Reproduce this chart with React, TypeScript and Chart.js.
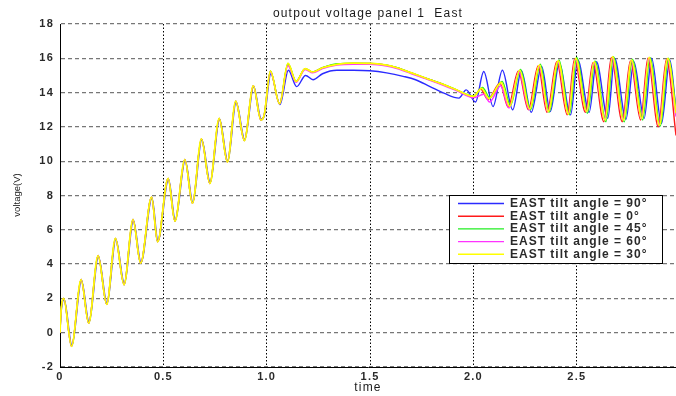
import React, { useEffect, useRef } from 'react';
import { Chart, registerables } from 'chart.js';

Chart.register(...registerables);

const TITLE = 'outpout voltage panel 1  East';
const X_LABEL = 'time';
const Y_LABEL = 'voltage(V)';
const X_MIN = 0;
const X_MAX = 2.98;
const X_STEP = 0.5;
const Y_MIN = -2;
const Y_MAX = 18;
const Y_STEP = 2;

const SERIES_LABELS = [
  'EAST tilt angle = 90°',
  'EAST tilt angle = 0°',
  'EAST tilt angle = 45°',
  'EAST tilt angle = 60°',
  'EAST tilt angle = 30°',
];

// 90°
const t90 = [0, 0.004, 0.02, 0.058, 0.104, 0.141, 0.186, 0.228, 0.27, 0.312, 0.355, 0.392, 0.445, 0.474, 0.525, 0.558, 0.606, 0.643, 0.686, 0.727, 0.772, 0.812, 0.852, 0.894, 0.937, 0.974, 0.99, 1.02, 1.064, 1.105, 1.145, 1.188, 1.224, 1.27, 1.34, 1.42, 1.5, 1.58, 1.66, 1.72, 1.79, 1.86, 1.93, 1.965, 2.01, 2.05, 2.095, 2.14, 2.19, 2.232, 2.28, 2.33, 2.372, 2.415, 2.47, 2.505, 2.56, 2.595, 2.65, 2.683, 2.738, 2.776, 2.826, 2.862, 2.91, 2.95, 2.98];
const v90 = [0, 1.0, 1.95, -0.75, 3.05, 0.6, 4.45, 1.7, 5.45, 2.85, 6.55, 4.1, 7.85, 5.35, 8.95, 6.55, 10.05, 7.6, 11.25, 8.75, 12.45, 10.0, 13.45, 11.25, 14.35, 12.45, 12.7, 15.1, 13.3, 15.3, 14.35, 15.0, 14.75, 15.1, 15.3, 15.3, 15.27, 15.15, 14.95, 14.75, 14.35, 13.95, 13.68, 14.16, 13.45, 15.23, 13.19, 15.3, 13.0, 15.27, 12.85, 15.52, 12.9, 15.7, 12.7, 15.9, 12.85, 15.8, 12.5, 16.0, 12.45, 15.8, 12.5, 16.0, 12.2, 15.9, 13.0];

// 0°
const t0 = [0, 0.004, 0.018, 0.056, 0.102, 0.139, 0.184, 0.226, 0.268, 0.31, 0.353, 0.39, 0.443, 0.472, 0.523, 0.556, 0.604, 0.641, 0.684, 0.725, 0.77, 0.81, 0.85, 0.892, 0.935, 0.972, 0.988, 1.018, 1.062, 1.103, 1.142, 1.186, 1.222, 1.27, 1.34, 1.42, 1.5, 1.58, 1.63, 1.7, 1.79, 1.86, 1.92, 2.0, 2.035, 2.07, 2.128, 2.168, 2.217, 2.266, 2.313, 2.356, 2.403, 2.454, 2.489, 2.542, 2.578, 2.631, 2.667, 2.72, 2.759, 2.809, 2.844, 2.894, 2.934, 2.98];
const v0 = [0, 1.1, 2.0, -0.8, 3.1, 0.55, 4.5, 1.65, 5.5, 2.8, 6.6, 4.05, 7.9, 5.3, 9.0, 6.5, 10.1, 7.55, 11.3, 8.7, 12.5, 9.95, 13.5, 11.2, 14.4, 12.4, 12.7, 15.25, 13.35, 15.65, 14.65, 15.4, 15.2, 15.45, 15.65, 15.7, 15.7, 15.6, 15.45, 15.15, 14.75, 14.45, 14.15, 13.75, 14.2, 13.6, 14.55, 13.15, 15.25, 13.0, 15.55, 12.85, 15.8, 12.7, 15.95, 12.85, 15.75, 12.3, 16.05, 12.3, 15.85, 12.4, 16.0, 12.0, 15.95, 11.5];

// 45°
const t45 = [0, 0.004, 0.018, 0.056, 0.102, 0.139, 0.184, 0.226, 0.268, 0.31, 0.353, 0.39, 0.443, 0.472, 0.523, 0.556, 0.604, 0.641, 0.684, 0.725, 0.77, 0.81, 0.85, 0.892, 0.935, 0.972, 0.988, 1.018, 1.062, 1.103, 1.142, 1.186, 1.222, 1.27, 1.34, 1.42, 1.5, 1.58, 1.63, 1.7, 1.79, 1.86, 1.92, 2.0, 2.044, 2.079, 2.139, 2.179, 2.228, 2.276, 2.324, 2.366, 2.414, 2.464, 2.499, 2.552, 2.588, 2.641, 2.677, 2.73, 2.769, 2.819, 2.854, 2.904, 2.944, 2.98];
const v45 = [0, 1.1, 2.0, -0.8, 3.1, 0.55, 4.5, 1.65, 5.5, 2.8, 6.6, 4.05, 7.9, 5.3, 9.0, 6.5, 10.1, 7.55, 11.3, 8.7, 12.5, 9.95, 13.5, 11.2, 14.4, 12.4, 12.7, 15.25, 13.35, 15.7, 14.65, 15.4, 15.2, 15.45, 15.68, 15.72, 15.7, 15.6, 15.45, 15.15, 14.75, 14.45, 14.15, 13.8, 14.3, 13.7, 14.65, 13.25, 15.35, 13.0, 15.65, 12.85, 15.9, 12.7, 16.05, 12.8, 15.85, 12.3, 16.1, 12.3, 15.95, 12.4, 16.05, 12.05, 16.0, 13.0];

// 60°
const t60 = [0, 0.004, 0.018, 0.056, 0.102, 0.139, 0.184, 0.226, 0.268, 0.31, 0.353, 0.39, 0.443, 0.472, 0.523, 0.556, 0.604, 0.641, 0.684, 0.725, 0.77, 0.81, 0.85, 0.892, 0.935, 0.972, 0.988, 1.018, 1.062, 1.103, 1.142, 1.186, 1.222, 1.27, 1.34, 1.42, 1.5, 1.58, 1.63, 1.7, 1.79, 1.86, 1.92, 2.0, 2.05, 2.078, 2.132, 2.172, 2.22, 2.27, 2.318, 2.36, 2.408, 2.458, 2.493, 2.546, 2.582, 2.635, 2.671, 2.724, 2.763, 2.813, 2.848, 2.898, 2.938, 2.98];
const v60 = [0, 1.1, 2.0, -0.8, 3.1, 0.55, 4.5, 1.65, 5.5, 2.8, 6.6, 4.05, 7.9, 5.3, 9.0, 6.5, 10.1, 7.55, 11.3, 8.7, 12.5, 9.95, 13.5, 11.2, 14.4, 12.4, 12.7, 15.2, 13.35, 15.56, 14.6, 15.35, 15.15, 15.4, 15.6, 15.65, 15.65, 15.55, 15.4, 15.1, 14.72, 14.4, 14.1, 13.7, 13.9, 13.45, 14.4, 13.1, 15.2, 13.0, 15.55, 12.9, 15.8, 12.75, 15.95, 12.9, 15.75, 12.45, 16.0, 12.45, 15.85, 12.5, 16.0, 12.15, 15.95, 12.6];

// 30°
const t30 = [0, 0.004, 0.018, 0.056, 0.102, 0.139, 0.184, 0.226, 0.268, 0.31, 0.353, 0.39, 0.443, 0.472, 0.523, 0.556, 0.604, 0.641, 0.684, 0.725, 0.77, 0.81, 0.85, 0.892, 0.935, 0.972, 0.988, 1.018, 1.062, 1.103, 1.142, 1.186, 1.222, 1.27, 1.34, 1.42, 1.5, 1.58, 1.63, 1.7, 1.79, 1.86, 1.92, 2.0, 2.04, 2.075, 2.135, 2.175, 2.224, 2.272, 2.32, 2.362, 2.41, 2.46, 2.495, 2.548, 2.584, 2.637, 2.673, 2.726, 2.765, 2.815, 2.85, 2.9, 2.94, 2.98];
const v30 = [0, 1.1, 2.0, -0.8, 3.1, 0.55, 4.5, 1.65, 5.5, 2.8, 6.6, 4.05, 7.9, 5.3, 9.0, 6.5, 10.1, 7.55, 11.3, 8.7, 12.5, 9.95, 13.5, 11.2, 14.4, 12.4, 12.7, 15.25, 13.35, 15.7, 14.65, 15.4, 15.2, 15.45, 15.65, 15.72, 15.7, 15.6, 15.45, 15.15, 14.75, 14.45, 14.15, 13.78, 14.25, 13.65, 14.6, 13.2, 15.3, 13.05, 15.6, 12.9, 15.85, 12.75, 16.0, 12.9, 15.8, 12.4, 16.1, 12.4, 15.9, 12.5, 16.05, 12.1, 16.0, 12.8];

const SERIES_T = [t90, t0, t45, t60, t30];
const SERIES_V = [v90, v0, v45, v60, v30];
const SERIES_COLORS = ['#2b2bff', '#ff1a1a', '#22ee22', '#ff33ff', '#ffff00'];
const SERIES_WIDTHS = [1.4, 1.4, 1.4, 1.4, 1.7];
const DRAW_ORDER = [4, 3, 2, 1, 0];

const FONT = '"Liberation Sans", Arial, sans-serif';
const TEXT_COLOR = '#1a1a1a';

const customPlugin = {
  id: 'matlabLook',
  beforeUpdate(chart: any) {
    chart.ctx.letterSpacing = '1.2px';
  },
  beforeDraw(chart: any) {
    chart.ctx.letterSpacing = '1.2px';
  },
  afterDraw(chart: any) {
    const ctx = chart.ctx;
    ctx.save();
    // legend box
    const lx = 449, ly = 195, lw = 213, lh = 68;
    ctx.fillStyle = '#ffffff';
    ctx.fillRect(lx, ly, lw, lh);
    ctx.strokeStyle = '#000000';
    ctx.lineWidth = 1;
    ctx.strokeRect(lx + 0.5, ly + 0.5, lw, lh);
    ctx.letterSpacing = '1px';
    ctx.font = 'bold 12px ' + FONT;
    ctx.textBaseline = 'middle';
    ctx.textAlign = 'left';
    chart.data.datasets.forEach((ds: any, i: number) => {
      const y = ly + 8.5 + i * 12.7;
      ctx.strokeStyle = ds.borderColor;
      ctx.lineWidth = 1.4;
      ctx.beginPath();
      ctx.moveTo(lx + 9, y);
      ctx.lineTo(lx + 55, y);
      ctx.stroke();
      ctx.fillStyle = '#2a2a2a';
      ctx.fillText(ds.label, lx + 61, y);
    });
    // y axis label
    ctx.letterSpacing = '0px';
    ctx.translate(17.5, 195);
    ctx.rotate(-Math.PI / 2);
    ctx.textAlign = 'center';
    ctx.textBaseline = 'middle';
    ctx.font = '9.5px ' + FONT;
    ctx.fillStyle = TEXT_COLOR;
    ctx.fillText(Y_LABEL, 0, 0);
    ctx.restore();
  },
};

export default function App() {
  const canvasRef = useRef<HTMLCanvasElement | null>(null);

  useEffect(() => {
    document.body.style.margin = '0';
    const canvas = canvasRef.current;
    if (!canvas) return;
    const datasets = SERIES_LABELS.map((label, i) => ({
      label,
      data: SERIES_T[i].map((x, j) => ({ x, y: SERIES_V[i][j] })),
      borderColor: SERIES_COLORS[i],
      backgroundColor: SERIES_COLORS[i],
      borderWidth: SERIES_WIDTHS[i],
      pointRadius: 0,
      fill: false,
      cubicInterpolationMode: 'monotone' as const,
      order: DRAW_ORDER[i],
    }));
    const chart = new Chart(canvas, {
      type: 'line',
      data: { datasets },
      options: {
        responsive: false,
        animation: false,
        devicePixelRatio: 1,
        layout: { padding: 0 },
        plugins: {
          legend: { display: false },
          tooltip: { enabled: false },
          title: {
            display: true,
            text: TITLE,
            fullSize: false,
            color: TEXT_COLOR,
            font: { size: 12, family: FONT, weight: 'normal' },
            padding: { top: 6, bottom: 3.6 },
          },
        },
        scales: {
          x: {
            type: 'linear',
            min: X_MIN,
            max: X_MAX,
            afterFit(s: any) { s.height = 29; },
            ticks: {
              stepSize: X_STEP,
              includeBounds: false,
              color: '#2a2a2a',
              font: { size: 11, family: FONT, weight: 'bold' },
              padding: 3,
              maxRotation: 0,
              autoSkip: false,
            },
            grid: { color: '#000000', lineWidth: 1, drawTicks: false },
            border: { display: true, color: '#000000', width: 1, dash: [1.5, 2] },
            title: {
              display: true,
              text: X_LABEL,
              color: TEXT_COLOR,
              font: { size: 12, family: FONT },
              padding: { top: 0, bottom: 1.5 },
            },
          },
          y: {
            type: 'linear',
            min: Y_MIN,
            max: Y_MAX,
            afterFit(s: any) { s.width = 60; },
            ticks: {
              stepSize: Y_STEP,
              color: '#2a2a2a',
              font: { size: 11, family: FONT, weight: 'bold' },
              padding: 6,
            },
            grid: { color: '#777777', lineWidth: 1.3, drawTicks: false },
            border: { display: true, color: '#000000', width: 1, dash: [4, 3] },
          },
        },
      },
      plugins: [customPlugin],
    } as any);
    return () => chart.destroy();
  }, []);

  return (
    <div style={{ width: 676, height: 396 }}>
      <canvas ref={canvasRef} width={676} height={396} style={{ display: 'block' }} />
    </div>
  );
}
